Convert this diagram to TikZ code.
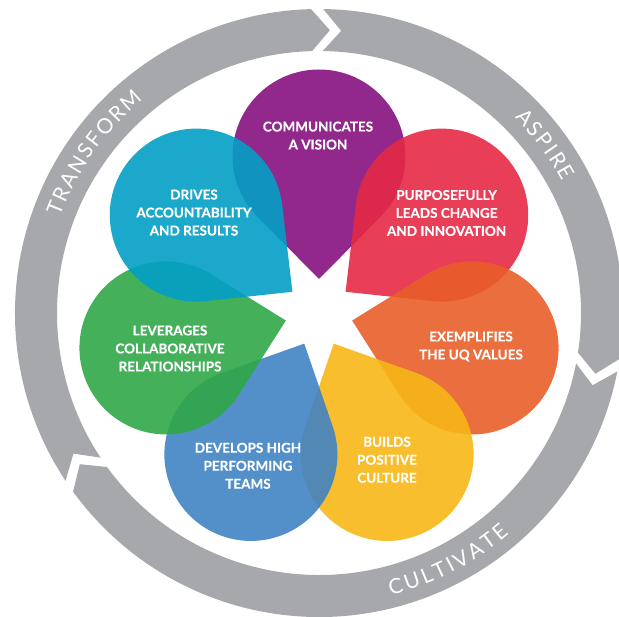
\documentclass[tikz,border=0pt]{standalone}
\usepackage{fontspec}
\setmainfont{Lato}[BoldFeatures={FakeBold=0.4}]
\newfontfamily\ringfam{Lato}
\newcommand\ringfont{\ringfam\fontsize{21}{21}\selectfont}
\definecolor{ringgray}{RGB}{167,168,172}
\definecolor{cpurple}{RGB}{134,16,127}
\definecolor{cred}{RGB}{229,41,69}
\definecolor{corange}{RGB}{233,94,41}
\definecolor{cyellow}{RGB}{247,183,23}
\definecolor{cblue}{RGB}{64,132,195}
\definecolor{cgreen}{RGB}{48,167,72}
\definecolor{ccyan}{RGB}{2,159,197}
\tikzset{
  petaltxt/.style={text=white, font=\bfseries\fontsize{13.5}{18}\selectfont, align=center, inner sep=0pt},
  ringtxt/.style={text=white, font=\ringfont, inner sep=0pt},
  petalfill/.style={fill=#1, fill opacity=0.9},
  ringseg/.style={fill=ringgray}
}
\makeatletter
\newdimen\rtpos
\newdimen\rttot
\newcount\rtk
\newcommand\prepword[6]{% #1 name, #2 letters, #3 centre angle, #4 radius, #5 spacing (pt), #6 dir
  \global\rttot=0pt\relax
  \@for\lt:=#2\do{%
    \setbox0=\hbox{\ringfont\lt}%
    \global\advance\rttot by \wd0\relax
    \global\advance\rttot by #5pt\relax}%
  \global\advance\rttot by -#5pt\relax
  \global\rtpos=-0.5\rttot\relax
  \global\rtk=0\relax
  \@for\lt:=#2\do{%
    \setbox0=\hbox{\ringfont\lt}%
    \global\advance\rtk by 1\relax
    \global\advance\rtpos by 0.5\wd0\relax
    \edef\rtnum{\strip@pt\rtpos}%
    \pgfmathsetmacro\rtang{#3+(#6)*(\rtnum/#4)*57.29578}%
    \pgfmathsetmacro\rtrot{\rtang+(#6)*90}%
    \expandafter\xdef\csname rtA#1\the\rtk\endcsname{\rtang}%
    \expandafter\xdef\csname rtR#1\the\rtk\endcsname{\rtrot}%
    \expandafter\xdef\csname rtC#1\the\rtk\endcsname{\lt}%
    \global\advance\rtpos by 0.5\wd0\relax
    \global\advance\rtpos by #5pt\relax}%
}
\prepword{transform}{T,R,A,N,S,F,O,R,M}{144.6}{284}{2.5}{-1}
\prepword{aspire}{A,S,P,I,R,E}{36.7}{284}{2.5}{-1}
\prepword{cultivate}{C,U,L,T,I,V,A,T,E}{-62.5}{284}{2.5}{1}
\makeatother
\newcommand\placeword[2]{% #1 name, #2 count
  \foreach \k in {1,...,#2}{%
    \edef\wa{\csname rtA#1\k\endcsname}%
    \edef\wr{\csname rtR#1\k\endcsname}%
    \edef\wc{\csname rtC#1\k\endcsname}%
    \node[ringtxt, rotate=\wr] (#1-\k) at (\wa:284) {\wc};
  }%
}
\newcommand\drawpetal[2]{% #1 angle, #2 colour
  \pgfmathsetmacro\pa{#1-134.7}\pgfmathsetmacro\pb{#1+134.7}%
  \fill[petalfill=#2] (#1:34) -- ([shift={(#1:157)}]\pa:86.5) arc[start angle=\pa, end angle=\pb, radius=86.5] -- cycle;
}
\newcommand\ringsegment[2]{% #1 start, #2 end (clockwise)
  \pgfmathsetmacro\sd{#1-3.7}\pgfmathsetmacro\ed{#2-3.7}%
  \fill[ringseg] (#1:304) arc[start angle=#1, end angle=#2, radius=304] -- (\ed:283) -- (#2:262) arc[start angle=#2, end angle=#1, radius=262] -- (\sd:283) -- cycle;
}
\begin{document}
\begin{tikzpicture}[x=1pt,y=1pt]
\useasboundingbox (0,0) rectangle (619,617);
\begin{scope}[shift={(319,304)}]
  \ringsegment{213.5}{91.5}
  \ringsegment{89.2}{-8.7}
  \ringsegment{-11.1}{-144}
  \drawpetal{90}{cpurple}
  \drawpetal{38.571}{cred}
  \drawpetal{-12.857}{corange}
  \drawpetal{-64.286}{cyellow}
  \drawpetal{-115.714}{cblue}
  \drawpetal{-167.143}{cgreen}
  \drawpetal{141.429}{ccyan}
  \placeword{transform}{9}
  \placeword{aspire}{6}
  \placeword{cultivate}{9}
\end{scope}
\node[petaltxt] (vision) at (318,481.4) {COMMUNICATES\\A VISION};
\node[petaltxt] (drives) at (194,404.4) {DRIVES\\ACCOUNTABILITY\\AND RESULTS};
\node[petaltxt] (leads) at (446.6,404) {PURPOSEFULLY\\LEADS CHANGE\\AND INNOVATION};
\node[petaltxt] (leverages) at (170,268.5) {LEVERAGES\\COLLABORATIVE\\RELATIONSHIPS};
\node[petaltxt] (exemplifies) at (471,270.6) {EXEMPLIFIES\\THE UQ VALUES};
\node[petaltxt] (develops) at (248,151.2) {DEVELOPS HIGH\\PERFORMING\\TEAMS};
\node[petaltxt] (builds) at (387,157.2) {BUILDS\\POSITIVE\\CULTURE};
\end{tikzpicture}
\end{document}
